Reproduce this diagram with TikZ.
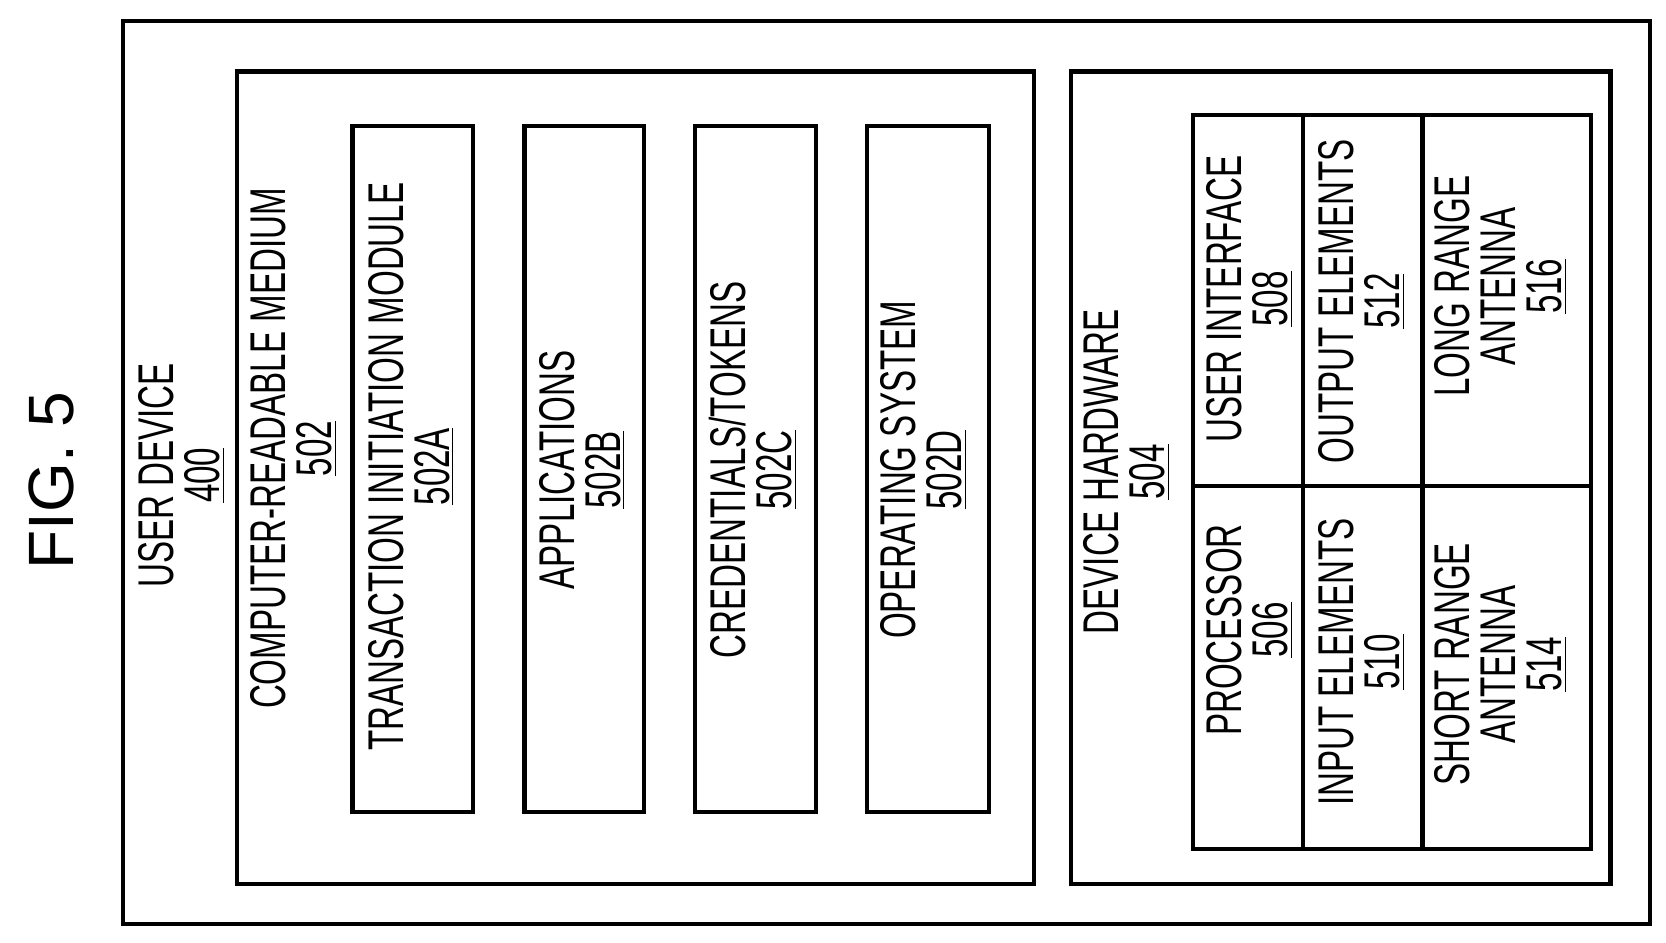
\documentclass[tikz,border=0pt]{standalone}
\usepackage{fontspec}
\setmainfont{Liberation Sans}[FakeStretch=0.66]
\newfontfamily\figfont{Liberation Sans}
\begin{document}
\begin{tikzpicture}[x=0.5pt,y=-0.5pt,
  box/.style={draw,line width=2pt},
  lbl/.style={rotate=90,align=center,font=\fontsize{23.5}{21.5}\selectfont,inner sep=0pt}]
\useasboundingbox[fill=white] (0,0) rectangle (1560,883);
\node[rotate=90,font=\figfont\fontsize{30}{32}\selectfont] (fig) at (48,450) {FIG. 5};
\draw[box] (115,20) rectangle (1545,865);
\node[lbl] (ud) at (170,445) {USER DEVICE\\\underline{400}};
\draw[box] (222,67) rectangle (968,828);
\node[lbl] (crm) at (275,420) {COMPUTER-READABLE MEDIUM\\\underline{502}};
\draw[box] (330,118) rectangle (443,760);
\node[lbl] (a) at (385,437) {TRANSACTION INITIATION MODULE\\\underline{502A}};
\draw[box] (491,118) rectangle (603,760);
\node[lbl] (b) at (545,440) {APPLICATIONS\\\underline{502B}};
\draw[box] (651,118) rectangle (764,760);
\node[lbl] (c) at (705,440) {CREDENTIALS/TOKENS\\\underline{502C}};
\draw[box] (812,118) rectangle (926,760);
\node[lbl] (d) at (865,440) {OPERATING SYSTEM\\\underline{502D}};
\draw[box] (1003,67) rectangle (1508,828);
\node[lbl] (hw) at (1055,442) {DEVICE HARDWARE\\\underline{504}};
\draw[box] (1117,108) rectangle (1490,795);
\draw[box] (1220,108) -- (1220,795);
\draw[box] (1332,108) -- (1332,795);
\draw[box] (1117,455) -- (1490,455);
\node[lbl] (ui) at (1170,280) {USER INTERFACE\\\underline{508}};
\node[lbl] (oe) at (1275,282) {OUTPUT ELEMENTS\\\underline{512}};
\node[lbl] (la) at (1405,268) {LONG RANGE\\ANTENNA\\\underline{516}};
\node[lbl] (pr) at (1170,590) {PROCESSOR\\\underline{506}};
\node[lbl] (ie) at (1275,620) {INPUT ELEMENTS\\\underline{510}};
\node[lbl] (sa) at (1405,622) {SHORT RANGE\\ANTENNA\\\underline{514}};
\end{tikzpicture}
\end{document}
